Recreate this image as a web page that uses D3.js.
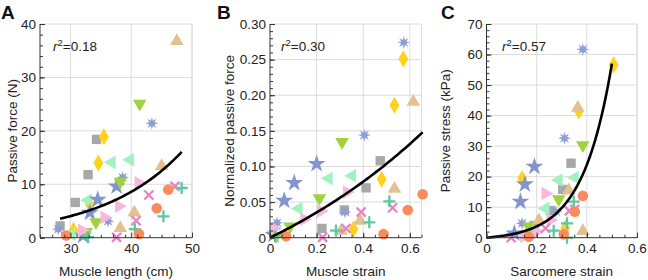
<!DOCTYPE html>
<html><head><meta charset="utf-8">
<script src="https://cdn.jsdelivr.net/npm/d3@7"></script>
<style>
body{margin:0;background:#fff;}
svg{display:block;font-family:"Liberation Sans",Arial,sans-serif;}
</style></head>
<body><svg id="c" width="648" height="280"></svg>
<script>
// subjects: style keys
const shapes = ["square","diamond","left","star","asterisk","down","right","up","x","plus","circle"];
const colors = ["#a8a8a8","#ffd21c","#a2f2c1","#8394cf","#8e9fd3","#9fd23e","#f9b6de","#e3c08f","#e684c5","#5ec7a1","#fb8b5e"];

// Panel A: muscle length (cm) vs passive force (N)
const muscleLength = [[34.3,32.9,30.8,28.3],[35.5,34.6,33.2,30.5],[39.8,36.8,32.9,30.2],[37.6,34.5,33.2,32.1],[43.4,38.6,36.2,28.0],[41.4,38.2,34.2,32.6],[41.2,38.0,35.6,31.9],[47.5,45.0,40.5,38.2],[47.2,42.9,40.8,37.6],[48.3,45.3,40.6,32.9],[46.1,44.2,41.3,29.3]];
const passiveForce = [[18.4,11.8,6.6,2.2],[18.9,14.0,6.2,1.4],[14.6,14.1,7.0,0.6],[9.6,7.1,4.7,0.4],[21.4,11.3,3.1,1.6],[24.9,10.3,2.7,0.9],[10.3,5.9,3.8,1.4],[37.0,13.6,4.9,2.0],[9.6,8.0,3.2,0.05],[9.3,4.0,1.6,0.1],[9.0,5.5,0.7,0.4]];
// Panel B: muscle strain vs normalized passive force
const muscleStrain = [[0.473,0.412,0.319,0.223],[0.572,0.534,0.479,0.358],[0.352,0.252,0.123,0.014],[0.200,0.104,0.061,0.015],[0.574,0.405,0.322,0.030],[0.309,0.212,0.086,0.026],[0.330,0.219,0.147,0.018],[0.615,0.534,0.386,0.305],[0.526,0.391,0.326,0.226],[0.512,0.426,0.283,0.022],[0.655,0.591,0.487,0.069]];
const normForce = [[0.108,0.070,0.039,0.013],[0.251,0.186,0.082,0.012],[0.087,0.083,0.041,0.008],[0.1035,0.077,0.052,0.004],[0.274,0.144,0.036,0.021],[0.133,0.054,0.0146,0.001],[0.064,0.0375,0.026,0.013],[0.192,0.070,0.025,0.011],[0.042,0.036,0.013,0.0005],[0.051,0.0216,0.010,0.002],[0.061,0.039,0.005,0.002]];
// Panel C: sarcomere strain vs passive stress (kPa)
const sarcStrain = [[0.337,0.304,0.255,0.19],[0.507,0.368,0.142,0.314],[0.352,0.288,0.235,0.149],[0.191,0.153,0.135,0.111],[0.384,0.311,0.277,0.142],[0.384,0.288,0.169,0.16],[0.235,0.255,0.20,0.15],[0.364,0.328,0.209,0.384],[0.352,0.235,0.33,0.098],[0.348,0.321,0.268,0.321],[0.384,0.352,0.308,0.169]];
const passiveStress = [[24.4,15.8,8.9,4.0],[56.6,41.5,19.4,3.1],[19.7,18.9,9.6,0.9],[23.3,17.5,11.8,1.4],[61.7,32.6,8.5,4.7],[30.0,12.3,3.4,0.8],[14.5,5.8,2.0,0.5],[42.9,15.8,6.0,2.5],[9.3,3.1,8.8,0],[11.8,4.7,2.3,0],[13.7,8.5,1.1,0.3]];

// exponential fits: y = a*exp(b*x) + c, over [x0, x1]
const fitA = {a:0.4206, b:0.0754, c:0, x0:28.3, x1:48.3};
const fitB = {a:0.16, b:1.0, c:-0.16, x0:0, x1:0.655};
const fitC = {a:0.825, b:8.5, c:-0.825, x0:0, x1:0.5};

const ticksAx = [30,40,50], ticksAy = [0,10,20,30,40];
const ticksBx = [0,0.2,0.4,0.6], ticksBy = [0,0.05,0.10,0.15,0.20,0.25,0.30];
const ticksCx = [0,0.2,0.4,0.6], ticksCy = [0,10,20,30,40,50,60,70];
const r2 = ["0.18","0.30","0.57"];

const panels = [
 {letter:"A", lx:1, left:40, right:192, xd:[25,50], yd:[0,40], xt:ticksAx, yt:ticksAy, xm:2, ym:2, xf:d3.format("d"), yf:d3.format("d"),
  X:muscleLength, Y:passiveForce, fit:fitA, xlab:"Muscle length (cm)", ylab:"Passive force (N)", ylx:12, r2x:53},
 {letter:"B", lx:217, left:270, right:421.5, xd:[0,0.65], yd:[0,0.30], xt:ticksBx, yt:ticksBy, xm:0.05, ym:0.01, xf:d=>d===0?"0":d3.format(".1f")(d), yf:d=>d===0?"0":d3.format(".2f")(d),
  X:muscleStrain, Y:normForce, fit:fitB, xlab:"Muscle strain", ylab:"Normalized passive force", ylx:229, r2x:281},
 {letter:"C", lx:441, left:486.5, right:637, xd:[0,0.6], yd:[0,70], xt:ticksCx, yt:ticksCy, xm:0.05, ym:2, xf:d=>d===0?"0":d3.format(".1f")(d), yf:d3.format("d"),
  X:sarcStrain, Y:passiveStress, fit:fitC, xlab:"Sarcomere strain", ylab:"Passive stress (kPa)", ylx:445, r2x:502}
];

const plotTop = 24, plotBottom = 237.7;
const svg = d3.select("#c");

function shapePath(s){
  switch(s){
    case "square": return d3.symbol(d3.symbolSquare, 88)();
    case "diamond": return d3.symbol(d3.symbolDiamond, 85)();
    case "up": case "down": case "left": case "right": return d3.symbol(d3.symbolTriangle, 80)();
    case "star": return d3.symbol(d3.symbolStar, 100)();
    case "circle": return d3.symbol(d3.symbolCircle, 88)();
    case "asterisk": {
      const pts=[]; for(let i=0;i<16;i++){const r=i%2?2.8:6.4; const a=i*Math.PI/8 - Math.PI/2; pts.push([r*Math.cos(a), r*Math.sin(a)]);}
      return "M"+pts.map(p=>p.join(",")).join("L")+"Z";
    }
    case "x": return "M-4.5,-4.5L4.5,4.5M-4.5,4.5L4.5,-4.5";
    case "plus": return "M-6,0L6,0M0,-6L0,6";
  }
}
function rot(s){ return s==="down"?180: s==="left"?-90: s==="right"?90: 0; }
function yoff(s){ return s==="up"?1: s==="down"?-1: 0; }

panels.forEach((p,pi)=>{
  const x = d3.scaleLinear().domain(p.xd).range([p.left,p.right]);
  const y = d3.scaleLinear().domain(p.yd).range([plotBottom,plotTop]);
  const g = svg.append("g");
  // grid
  const xg = p.xt.filter(v=>x(v)>p.left+1);
  g.selectAll(".gx").data(xg).join("line").attr("x1",d=>x(d)).attr("x2",d=>x(d)).attr("y1",plotTop).attr("y2",plotBottom).attr("stroke","#dcdcdc").attr("stroke-width",1);
  g.selectAll(".gy").data(p.yt.filter(v=>v>p.yd[0])).join("line").attr("x1",p.left).attr("x2",p.right).attr("y1",d=>y(d)).attr("y2",d=>y(d)).attr("stroke","#dcdcdc").attr("stroke-width",1);
  g.append("line").attr("x1",p.right).attr("x2",p.right).attr("y1",plotTop).attr("y2",plotBottom).attr("stroke","#dcdcdc");

  // markers
  const pts=[];
  p.X.forEach((xs,si)=>xs.forEach((v,k)=>pts.push({x:v,y:p.Y[si][k],s:si})));
  g.selectAll(".m").data(pts).join("path")
    .attr("d",d=>shapePath(shapes[d.s]))
    .attr("transform",d=>`translate(${x(d.x)},${y(d.y)+yoff(shapes[d.s])}) rotate(${rot(shapes[d.s])})`)
    .attr("fill",d=>(shapes[d.s]==="x"||shapes[d.s]==="plus")?"none":colors[d.s])
    .attr("stroke",d=>(shapes[d.s]==="x"||shapes[d.s]==="plus")?colors[d.s]:"none")
    .attr("stroke-width",2.3);

  // fit curve
  const f=p.fit; const n=60;
  const cx=d3.range(n+1).map(i=>f.x0+(f.x1-f.x0)*i/n);
  g.append("path").datum(cx).attr("fill","none").attr("stroke","#000").attr("stroke-width",2.6)
   .attr("d",d3.line().x(v=>x(v)).y(v=>y(f.a*Math.exp(f.b*v)+f.c)));

  // axes
  const xMinor = d3.range(p.xd[0], p.xd[1]+1e-9, p.xm);
  const yMinor = d3.range(p.yd[0], p.yd[1]+1e-9, p.ym);
  const ax = g.append("g").attr("transform",`translate(0,${plotBottom})`)
    .call(d3.axisBottom(x).tickValues(xMinor).tickSize(-3).tickFormat(""));
  ax.select(".domain").remove();
  ax.selectAll("line").attr("stroke","#333");
  const ax2 = g.append("g").attr("transform",`translate(0,${plotBottom})`)
    .call(d3.axisBottom(x).tickValues(p.xt).tickSize(-5).tickPadding(6).tickFormat(p.xf));
  ax2.select(".domain").attr("stroke","#333").attr("d",`M${p.left},0H${p.right}`);
  ax2.selectAll("line").attr("stroke","#333");
  ax2.selectAll("text").attr("font-size",13.5).attr("fill","#222").attr("font-family","Liberation Sans, Arial, sans-serif");

  const ay = g.append("g").attr("transform",`translate(${p.left},0)`)
    .call(d3.axisLeft(y).tickValues(yMinor).tickSize(-3).tickFormat(""));
  ay.select(".domain").remove();
  ay.selectAll("line").attr("stroke","#333");
  const ay2 = g.append("g").attr("transform",`translate(${p.left},0)`)
    .call(d3.axisLeft(y).tickValues(p.yt).tickSize(-5).tickPadding(4).tickFormat(p.yf));
  ay2.select(".domain").attr("stroke","#333").attr("d",`M0,${plotTop}V${plotBottom}`);
  ay2.selectAll("line").attr("stroke","#333");
  ay2.selectAll("text").attr("font-size",13.5).attr("fill","#222").attr("font-family","Liberation Sans, Arial, sans-serif");

  // labels
  g.append("text").attr("x",(p.left+p.right)/2).attr("y",276).attr("text-anchor","middle").attr("font-size",13.5).attr("fill","#222").text(p.xlab);
  g.append("text").attr("transform",`translate(${p.ylx},${(plotTop+plotBottom)/2}) rotate(-90)`).attr("dy","0.35em").attr("text-anchor","middle").attr("font-size",13.5).attr("fill","#222").text(p.ylab);
  g.append("text").attr("x",p.lx).attr("y",19).attr("font-size",19).attr("font-weight","bold").attr("fill","#111").text(p.letter);
  const t = g.append("text").attr("x",p.r2x).attr("y",51).attr("font-size",13.5).attr("fill","#222");
  t.append("tspan").attr("font-style","italic").text("r");
  t.append("tspan").attr("font-size",9.5).attr("dy",-5).text("2");
  t.append("tspan").attr("dy",5).text("="+r2[pi]);
});
</script></body></html>
